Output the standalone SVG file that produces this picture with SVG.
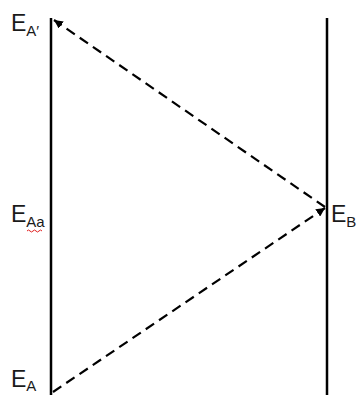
<svg xmlns="http://www.w3.org/2000/svg" width="360" height="395" viewBox="0 0 360 395">
<defs>
<style>
.lbl{font-family:"Liberation Sans","Open Sans",sans-serif;font-size:23px;fill:#1a1a1a}
.sub{font-size:15px}
.axis{stroke:#000;stroke-width:2.5;fill:none}
.dash{stroke:#000;stroke-width:2.2;stroke-dasharray:10,6;fill:none}
</style>
<marker id="ah" viewBox="0 0 10 10" refX="10" refY="5" markerWidth="4" markerHeight="4" orient="auto" markerUnits="strokeWidth">
<path d="M0,0 L10,5 L0,10 z" fill="#000"/>
</marker>
</defs>
<g id="lineA"><line class="axis" x1="51" y1="18" x2="51" y2="395"/></g>
<g id="lineB"><line class="axis" x1="327" y1="18" x2="327" y2="395"/></g>
<g id="connectors">
<line class="dash" x1="53" y1="392" x2="325" y2="208" marker-end="url(#ah)"/>
<line class="dash" x1="325" y1="207" x2="54" y2="20" marker-end="url(#ah)"/>
</g>
<g id="EAprime"><text class="lbl" x="11" y="31">E<tspan class="sub" dy="5">A′</tspan></text></g>
<g id="EAa"><text class="lbl" x="11" y="222">E<tspan class="sub" dy="5">Aa</tspan></text>
<path d="M27,231 q1.5,-2 3,0 t3,0 t3,0 t3,0 t3,0" stroke="#e02020" stroke-width="1" fill="none"/></g>
<g id="EA"><text class="lbl" x="11" y="387">E<tspan class="sub" dy="4">A</tspan></text></g>
<g id="EB"><text class="lbl" x="331" y="222">E<tspan class="sub" dy="5">B</tspan></text></g>
</svg>
